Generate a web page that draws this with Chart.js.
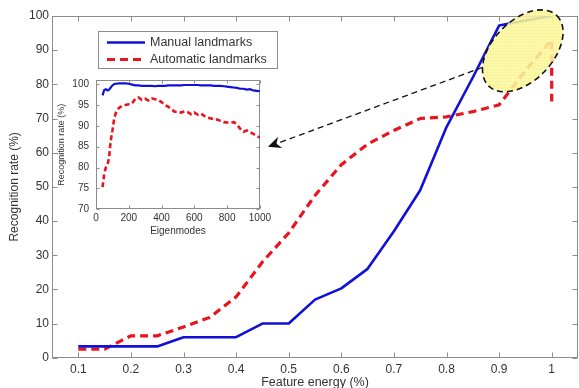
<!DOCTYPE html>
<html>
<head>
<meta charset="utf-8">
<script src="https://cdn.jsdelivr.net/npm/chart.js@4.4.1/dist/chart.umd.min.js"></script>
<style>
  html, body { margin: 0; padding: 0; background: #fff; }
  #wrap { position: relative; width: 579px; height: 388px; overflow: hidden; }
  #mainChart { position: absolute; left: 0; top: 0; }
  #insetChart { position: absolute; left: 56px; top: 67px; }
</style>
</head>
<body>
<div id="wrap">
  <canvas id="mainChart" width="579" height="388"></canvas>
  <canvas id="insetChart" width="218" height="175"></canvas>
</div>
<script>
// ---- 主图数据 (Feature energy vs Recognition rate) ----
const featureEnergy = [0.1, 0.15, 0.2, 0.25, 0.3, 0.35, 0.4, 0.45, 0.5, 0.55, 0.6, 0.65, 0.7, 0.75, 0.8, 0.85, 0.9, 0.95, 1.0];
const manualRate = [3.3, 3.3, 3.3, 3.3, 6, 6, 6, 10, 10, 17, 20.3, 26, 37, 49, 67.5, 82, 97.2, 98.7, 100];
// 自动标注在 1.0 处有一段竖直下降
const autoEnergy = [0.1, 0.15, 0.2, 0.25, 0.3, 0.35, 0.4, 0.45, 0.5, 0.55, 0.6, 0.65, 0.7, 0.75, 0.8, 0.85, 0.9, 0.95, 1.0, 1.0];
const autoRate = [2.5, 2.5, 6.4, 6.4, 9, 11.8, 17.8, 28, 36.5, 47.5, 56.5, 62.5, 66.5, 70, 70.5, 72, 74, 84, 93, 75];

const xTicks = [0.1, 0.2, 0.3, 0.4, 0.5, 0.6, 0.7, 0.8, 0.9, 1];
const yTicks = [0, 10, 20, 30, 40, 50, 60, 70, 80, 90, 100];

// ---- 插图数据 (Eigenmodes) ----
const eigenmodes = [40, 50, 60, 70, 80, 90, 100, 110, 120,
  140, 160, 180, 200, 220, 240, 260, 280, 300, 320, 340, 360, 380, 400,
  420, 440, 460, 480, 500, 520, 540, 560, 580, 600, 620, 640, 660, 680, 700,
  720, 740, 760, 780, 800, 820, 840, 860, 880, 900, 920, 940, 960, 980, 1000];
const manualInset = [97.3, 98.6, 98.8, 98.5, 98.7, 99.2, 99.7, 100.0, 100.1,
  100.2, 100.2, 100.2, 100.1, 99.9, 99.7, 99.7, 99.6, 99.6, 99.6, 99.6, 99.5, 99.6, 99.6,
  99.6, 99.7, 99.7, 99.7, 99.7, 99.7, 99.8, 99.8, 99.8, 99.8, 99.8, 99.7, 99.7, 99.7, 99.7,
  99.6, 99.6, 99.6, 99.5, 99.4, 99.3, 99.2, 99.1, 98.9, 98.9, 98.7, 98.8, 98.5, 98.4, 98.3];
const autoInset = [75.3, 78.5, 80.0, 80.6, 82.5, 86.5, 88.8, 91.5, 93.0,
  94.3, 94.8, 95.0, 95.2, 95.4, 96.5, 96.8, 96.2, 96.5, 96.1, 96.6, 96.4, 96.2, 95.7,
  95.0, 94.6, 94.0, 93.4, 93.4, 93.2, 93.5, 93.3, 92.8, 93.2, 92.7, 93.0, 92.4, 92.0, 91.8,
  91.6, 91.5, 91.2, 90.9, 90.8, 90.8, 90.9, 90.4, 89.3, 88.6, 88.9, 88.5, 88.1, 87.6, 87.2];

const insetXTicks = [0, 200, 400, 600, 800, 1000];
const insetYTicks = [70, 75, 80, 85, 90, 95, 100];

// 标注: 椭圆中心与箭头 (数据坐标)
const ellipseCenter = [0.945, 89.8];
const arrowFrom = [0.869, 85.0];
const arrowTo = [0.4606, 61.7];

const BLUE = '#1010d8';
const RED = '#e8141e';
const AXIS = '#8c8c8c';
const TEXT = '#333333';
const FONT = "'Liberation Sans', Arial, sans-serif";

const toPoints = (xs, ys) => xs.map((x, i) => ({ x, y: ys[i] }));

// MATLAB 风格的边框 + 向内的刻度
const frameTicks = {
  id: 'frameTicks',
  beforeDatasetsDraw(chart, args, opts) {
    const { ctx, chartArea: a, scales: { x, y } } = chart;
    const len = opts.len || 5;
    ctx.save();
    ctx.strokeStyle = AXIS;
    ctx.lineWidth = 1;
    const L = Math.round(a.left) + 0.5, R = Math.round(a.right) - 0.5;
    const T = Math.round(a.top) + 0.5, B = Math.round(a.bottom) - 0.5;
    ctx.strokeRect(L, T, R - L, B - T);
    ctx.beginPath();
    x.ticks.forEach(t => {
      const px = Math.round(x.getPixelForValue(t.value)) + 0.5;
      ctx.moveTo(px, B); ctx.lineTo(px, B - len);
      ctx.moveTo(px, T); ctx.lineTo(px, T + len);
    });
    y.ticks.forEach(t => {
      const py = Math.round(y.getPixelForValue(t.value)) + 0.5;
      ctx.moveTo(L, py); ctx.lineTo(L + len, py);
      ctx.moveTo(R, py); ctx.lineTo(R - len, py);
    });
    ctx.stroke();
    ctx.restore();
  }
};

// 椭圆高亮、虚线箭头和图例
const callout = {
  id: 'callout',
  afterDatasetsDraw(chart) {
    const { ctx, chartArea: a, scales: { x, y } } = chart;
    ctx.save();

    // 椭圆
    const cx = x.getPixelForValue(ellipseCenter[0]);
    const cy = y.getPixelForValue(ellipseCenter[1]);
    const rot = -46 * Math.PI / 180;
    const ra = 49, rb = 30;
    ctx.beginPath();
    ctx.ellipse(cx, cy, ra, rb, rot, 0, Math.PI * 2);
    ctx.fillStyle = 'rgba(255, 250, 160, 0.86)';
    ctx.fill();
    // 淡网格纹理
    ctx.save();
    ctx.clip();
    ctx.strokeStyle = 'rgba(225, 215, 110, 0.35)';
    ctx.lineWidth = 0.6;
    ctx.beginPath();
    for (let gx = cx - 60; gx <= cx + 60; gx += 3) { ctx.moveTo(gx + 0.5, cy - 60); ctx.lineTo(gx + 0.5, cy + 60); }
    for (let gy = cy - 60; gy <= cy + 60; gy += 3) { ctx.moveTo(cx - 60, gy + 0.5); ctx.lineTo(cx + 60, gy + 0.5); }
    ctx.stroke();
    ctx.restore();
    ctx.beginPath();
    ctx.ellipse(cx, cy, ra, rb, rot, 0, Math.PI * 2);
    ctx.setLineDash([6, 4]);
    ctx.strokeStyle = '#111';
    ctx.lineWidth = 1.6;
    ctx.stroke();

    // 箭头
    const x1 = x.getPixelForValue(arrowFrom[0]), y1 = y.getPixelForValue(arrowFrom[1]);
    const x2 = x.getPixelForValue(arrowTo[0]), y2 = y.getPixelForValue(arrowTo[1]);
    const ang = Math.atan2(y2 - y1, x2 - x1);
    ctx.setLineDash([6, 4]);
    ctx.lineWidth = 1.3;
    ctx.beginPath();
    ctx.moveTo(x1, y1);
    ctx.lineTo(x2 - 8 * Math.cos(ang), y2 - 8 * Math.sin(ang));
    ctx.stroke();
    ctx.setLineDash([]);
    const hl = 13, hw = 6;
    const bx = x2 - hl * Math.cos(ang), by = y2 - hl * Math.sin(ang);
    const nx = -Math.sin(ang), ny = Math.cos(ang);
    ctx.beginPath();
    ctx.moveTo(x2, y2);
    ctx.lineTo(bx + nx * hw, by + ny * hw);
    ctx.lineTo(x2 - 9 * Math.cos(ang), y2 - 9 * Math.sin(ang));
    ctx.lineTo(bx - nx * hw, by - ny * hw);
    ctx.closePath();
    ctx.fillStyle = '#111';
    ctx.fill();

    // 图例
    const lx = a.left + 46, ly = a.top + 15, lw = 179, lh = 37;
    ctx.fillStyle = '#fff';
    ctx.fillRect(lx, ly, lw, lh);
    ctx.strokeStyle = AXIS;
    ctx.lineWidth = 1;
    ctx.strokeRect(Math.round(lx) + 0.5, Math.round(ly) + 0.5, lw, lh);
    ctx.font = `12.5px ${FONT}`;
    ctx.textBaseline = 'middle';
    chart.data.datasets.forEach((ds, i) => {
      const ry = ly + 11.5 + i * 17;
      ctx.strokeStyle = ds.borderColor;
      ctx.lineWidth = ds.borderWidth;
      ctx.setLineDash(ds.borderDash || []);
      ctx.beginPath();
      ctx.moveTo(lx + 9, ry);
      ctx.lineTo(lx + 47, ry);
      ctx.stroke();
      ctx.setLineDash([]);
      ctx.fillStyle = TEXT;
      ctx.fillText(ds.label, lx + 52, ry + 0.5);
    });
    ctx.restore();
  }
};

const noGrid = { display: false, drawTicks: false, tickLength: 0 };

const mainCtx = document.getElementById('mainChart').getContext('2d');
new Chart(mainCtx, {
  type: 'line',
  data: {
    datasets: [
      {
        label: 'Manual landmarks',
        data: toPoints(featureEnergy, manualRate),
        borderColor: BLUE,
        borderWidth: 2.6,
        pointRadius: 0,
        tension: 0,
        borderJoinStyle: 'round'
      },
      {
        label: 'Automatic landmarks',
        data: toPoints(autoEnergy, autoRate),
        borderColor: RED,
        borderWidth: 3.2,
        borderDash: [8, 5],
        pointRadius: 0,
        tension: 0
      }
    ]
  },
  options: {
    responsive: false,
    animation: false,
    layout: { padding: { top: 16, right: 1, left: 0, bottom: 0 } },
    plugins: {
      legend: { display: false },
      tooltip: { enabled: false },
      frameTicks: { len: 5 }
    },
    scales: {
      x: {
        type: 'linear',
        min: 0.05,
        max: 1.05,
        afterBuildTicks: s => { s.ticks = xTicks.map(v => ({ value: v })); },
        afterFit: s => { s.height = 30.3; },
        grid: noGrid,
        border: { display: false },
        ticks: {
          autoSkip: false, maxRotation: 0, padding: 5,
          color: TEXT, font: { family: FONT, size: 12 },
          callback: v => String(v)
        },
        title: {
          display: true, text: 'Feature energy (%)', color: TEXT,
          font: { family: FONT, size: 12.5, lineHeight: 1 },
          padding: { top: 0, bottom: -1 }
        }
      },
      y: {
        min: 0,
        max: 100,
        afterBuildTicks: s => { s.ticks = yTicks.map(v => ({ value: v })); },
        afterFit: s => { s.width = 52; },
        grid: noGrid,
        border: { display: false },
        ticks: {
          autoSkip: false, padding: 3,
          color: TEXT, font: { family: FONT, size: 12 }
        },
        title: {
          display: true, text: 'Recognition rate (%)', color: TEXT,
          font: { family: FONT, size: 12, lineHeight: 1.2 },
          padding: { top: 7, bottom: 0 }
        }
      }
    }
  },
  plugins: [frameTicks, callout]
});

// 插图
const insetCtx = document.getElementById('insetChart').getContext('2d');
new Chart(insetCtx, {
  type: 'line',
  data: {
    datasets: [
      {
        label: 'Manual landmarks',
        data: toPoints(eigenmodes, manualInset),
        borderColor: BLUE,
        borderWidth: 2.2,
        pointRadius: 0,
        tension: 0
      },
      {
        label: 'Automatic landmarks',
        data: toPoints(eigenmodes, autoInset),
        borderColor: RED,
        borderWidth: 2.6,
        borderDash: [5, 3],
        pointRadius: 0,
        tension: 0
      }
    ]
  },
  options: {
    responsive: false,
    animation: false,
    layout: { padding: { top: 13, right: 5.7, left: 0, bottom: 0 } },
    plugins: {
      legend: { display: false },
      tooltip: { enabled: false },
      frameTicks: { len: 3 }
    },
    scales: {
      x: {
        type: 'linear',
        min: 0,
        max: 1000,
        afterBuildTicks: s => { s.ticks = insetXTicks.map(v => ({ value: v })); },
        afterFit: s => { s.height = 32.7; },
        grid: noGrid,
        border: { display: false },
        ticks: {
          autoSkip: false, maxRotation: 0, padding: 3,
          color: TEXT, font: { family: FONT, size: 10 },
          callback: v => String(v)
        },
        title: {
          display: true, text: 'Eigenmodes', color: TEXT,
          font: { family: FONT, size: 10, lineHeight: 1 },
          padding: { top: 0, bottom: 6 }
        }
      },
      y: {
        min: 70,
        max: 101,
        afterBuildTicks: s => { s.ticks = insetYTicks.map(v => ({ value: v })); },
        afterFit: s => { s.width = 40; },
        grid: noGrid,
        border: { display: false },
        ticks: {
          autoSkip: false, padding: 7,
          color: TEXT, font: { family: FONT, size: 10 }
        },
        title: {
          display: true, text: 'Recognition rate (%)', color: TEXT,
          font: { family: FONT, size: 9, lineHeight: 1 },
          padding: { top: 1.5, bottom: 0 }
        }
      }
    }
  },
  plugins: [frameTicks]
});
</script>
</body>
</html>
